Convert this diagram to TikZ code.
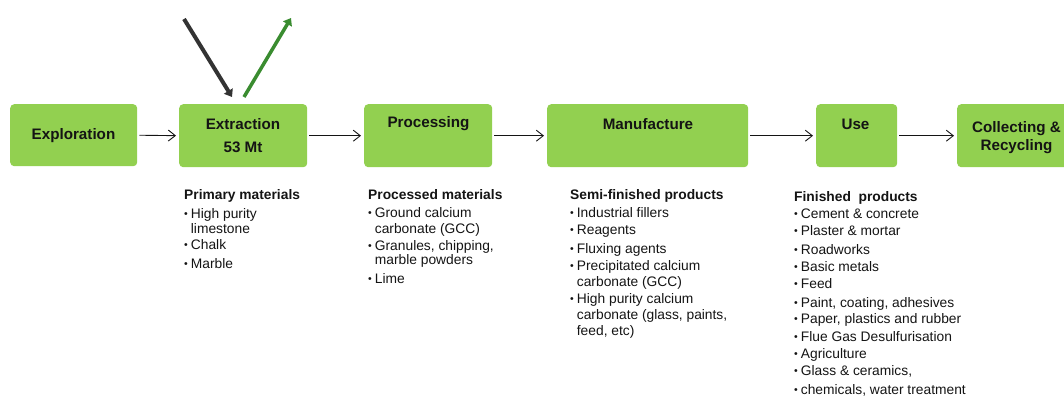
\documentclass[tikz,border=0pt]{standalone}
\usepackage{fontspec}
\setmainfont{Liberation Sans}
\usetikzlibrary{arrows.meta,calc}
\definecolor{boxgreen}{RGB}{146,208,80}
\definecolor{upgreen}{RGB}{58,140,48}
\definecolor{downgray}{RGB}{51,51,51}
\definecolor{ink}{RGB}{20,20,20}
% bullet item and continuation line for the material lists
\newcommand{\lpoint}[1]{\makebox[6.7pt][l]{\raisebox{0.4pt}{\fontsize{10.5}{10}\selectfont\textbullet}}#1}
\newcommand{\lcont}[1]{\hspace*{6.7pt}#1}
% fixed height of the first line of each list
\newcommand{\firstline}{\rule{0pt}{10pt}}
\begin{document}
\begin{tikzpicture}[x=1pt,y=-1pt,
  stage/.style={fill=boxgreen, rounded corners=4pt, draw=none, inner sep=0pt, anchor=north west},
  title/.style={font=\fontsize{15.2}{18}\selectfont\bfseries, text=ink, align=center, inner sep=0pt, anchor=base},
  flow/.style={draw=ink, line width=0.9pt, -{Straight Barb[length=7pt,width=11pt]}, shorten <=2pt, shorten >=3pt},
  list/.style={anchor=north west, align=left, inner sep=0pt, text=ink, font=\fontsize{13.8}{16}\selectfont},
]
\useasboundingbox (0,0) rectangle (1064,396);

% stage boxes
\node[stage, minimum width=127pt, minimum height=62pt] (expl) at (10,104) {};
\node[stage, minimum width=128pt, minimum height=63pt] (extr) at (179,104) {};
\node[stage, minimum width=128pt, minimum height=63pt] (proc) at (364,104) {};
\node[stage, minimum width=201pt, minimum height=63pt] (manu) at (547,104) {};
\node[stage, minimum width=81pt,  minimum height=63pt] (use)  at (816,104) {};
\node[stage, minimum width=120pt, minimum height=63pt] (recy) at (957,104) {};

% stage titles (placed by baseline; two-line titles by their last line)
\node[title] (explT) at (73.5,139) {Exploration};
\node[title] (extrT) at (243,152) {Extraction\\[4.5pt]53 Mt};
\node[title] (procT) at (428.5,127.5) {Processing};
\node[title] (manuT) at (648,129) {Manufacture};
\node[title] (useT)  at (855.5,129) {Use};
\node[title] (recyT) at (1016.5,150) {Collecting \&\\Recycling};

% flow between stages
\draw[flow] (expl.east) -- (extr.west);
\draw[flow] (extr.east) -- (proc.west);
\draw[flow] (proc.east) -- (manu.west);
\draw[flow] (manu.east) -- (use.west);
\draw[flow] (use.east) -- (recy.west);

% material entering and leaving extraction
\coordinate (inTop) at (184,19);
\coordinate (inEnd) at (232,97);
\coordinate (outStart) at (244,97);
\coordinate (outTop) at (291,18);
\draw[downgray, line width=4pt, -{Triangle[length=7pt,width=10pt]}] (inTop) -- (inEnd);
\draw[upgreen, line width=3.5pt, -{Triangle[length=7pt,width=10pt]}] (outStart) -- (outTop);

% material lists (first baseline 10pt below the given point)
\node[list] (primary) at (184,189) {%
  \firstline\textbf{Primary materials}\\[3pt]
  \lpoint{High purity}\\[-1pt]
  \lcont{limestone}\\[0pt]
  \lpoint{Chalk}\\[3pt]
  \lpoint{Marble}};
\node[list] (processed) at (368,189) {%
  \firstline\textbf{Processed materials}\\[2pt]
  \lpoint{Ground calcium}\\[0pt]
  \lcont{carbonate (GCC)}\\[1pt]
  \lpoint{Granules, chipping,}\\[-2pt]
  \lcont{marble powders}\\[3pt]
  \lpoint{Lime}};
\node[list] (semi) at (570,189) {%
  \firstline\textbf{Semi-finished products}\\[2pt]
  \lpoint{Industrial fillers}\\[1pt]
  \lpoint{Reagents}\\[3pt]
  \lpoint{Fluxing agents}\\[1pt]
  \lpoint{Precipitated calcium}\\[0pt]
  \lcont{carbonate (GCC)}\\[1pt]
  \lpoint{High purity calcium}\\[0pt]
  \lcont{carbonate (glass, paints,}\\[0pt]
  \lcont{feed, etc)}};
\node[list] (finished) at (794,191) {%
  \firstline\textbf{Finished~ products}\\[1pt]
  \lpoint{Cement \& concrete}\\[1pt]
  \lpoint{Plaster \& mortar}\\[3pt]
  \lpoint{Roadworks}\\[1pt]
  \lpoint{Basic metals}\\[1pt]
  \lpoint{Feed}\\[3pt]
  \lpoint{Paint, coating, adhesives}\\[0pt]
  \lpoint{Paper, plastics and rubber}\\[2pt]
  \lpoint{Flue Gas Desulfurisation}\\[1pt]
  \lpoint{Agriculture}\\[1pt]
  \lpoint{Glass \& ceramics,}\\[3pt]
  \lpoint{chemicals, water treatment}};
\end{tikzpicture}
\end{document}
